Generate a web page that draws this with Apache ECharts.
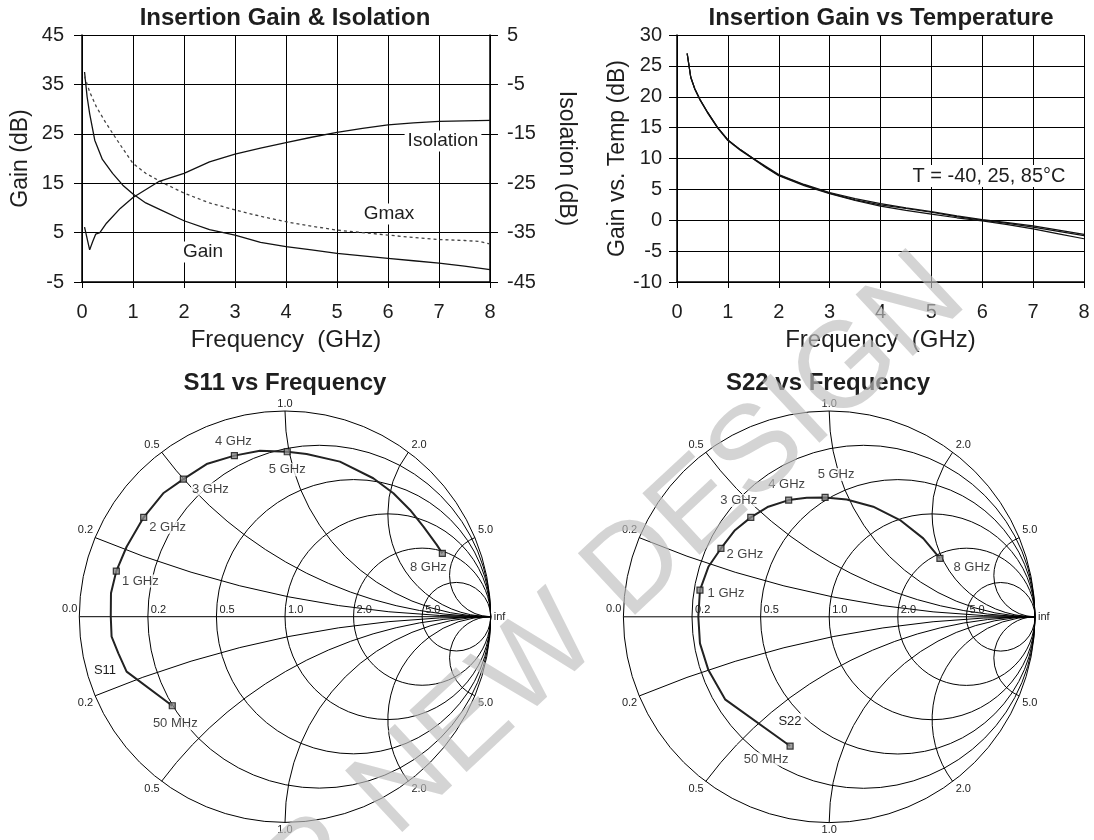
<!DOCTYPE html>
<html>
<head>
<meta charset="utf-8">
<title>Insertion Gain, Isolation, S11 / S22</title>
<script src="https://cdn.jsdelivr.net/npm/echarts@6/dist/echarts.min.js"></script>
<style>
  html, body { margin: 0; padding: 0; background: #fff; }
  #chart { width: 1094px; height: 840px; }
</style>
</head>
<body>
<div id="chart"></div>
<script>
// ---- values ----
var gainFreq = [0.05, 0.1, 0.15, 0.25, 0.4, 0.6, 0.8, 1.0, 1.25, 1.5, 2.0, 2.5, 3.0, 3.5, 4.0, 4.5, 5.0, 5.5, 6.0, 6.5, 7.0, 7.5, 8.0];
var gainDb = [37.5, 32.5, 29.1, 23.7, 19.8, 17.0, 14.6, 12.8, 11.0, 9.8, 7.4, 5.6, 4.5, 3.0, 2.15, 1.5, 0.8, 0.3, -0.2, -0.7, -1.2, -1.8, -2.5];

var gmaxFreq = [0.05, 0.15, 0.28, 0.45, 0.6, 0.8, 1.0, 1.25, 1.6, 2.0, 2.5, 3.0, 3.5, 4.0, 4.5, 5.0, 5.5, 6.0, 6.5, 7.0, 7.5, 7.8, 8.0];
var gmaxDb = [36.6, 33.5, 30.5, 27.5, 25.1, 22.0, 19.0, 17.0, 15.0, 13.0, 11.0, 9.6, 8.3, 7.2, 6.3, 5.5, 5.0, 4.5, 4.0, 3.6, 3.4, 3.2, 2.7];

var isoFreq = [0.05, 0.15, 0.21, 0.27, 0.35, 0.48, 0.75, 1.0, 1.5, 2.0, 2.5, 3.0, 3.5, 4.0, 4.5, 5.0, 5.5, 6.0, 6.5, 7.0, 7.5, 8.0];
var isoDb = [-33.9, -38.5, -36.8, -35.3, -35.0, -33.1, -30.1, -27.9, -24.7, -23.0, -20.7, -19.1, -17.9, -16.8, -15.7, -14.7, -13.9, -13.2, -12.8, -12.5, -12.4, -12.3];

var tempFreq = [0.2, 0.27, 0.35, 0.45, 0.6, 0.8, 1.0, 1.25, 1.5, 1.75, 2.0, 2.5, 3.0, 3.5, 4.0, 4.5, 5.0, 5.5, 6.0, 6.5, 7.0, 7.5, 8.0];
var gainM40 = [27.0, 23.2, 21.3, 19.6, 17.5, 15.0, 13.0, 11.4, 10.0, 8.7, 7.4, 5.8, 4.5, 3.5, 2.7, 2.0, 1.4, 0.7, 0.1, -0.4, -0.9, -1.6, -2.3];
var gain25 = [27.0, 23.2, 21.3, 19.6, 17.5, 15.0, 13.0, 11.4, 10.0, 8.6, 7.3, 5.7, 4.4, 3.3, 2.5, 1.9, 1.3, 0.6, 0.0, -0.5, -1.1, -1.8, -2.5];
var gain85 = [27.0, 23.1, 21.2, 19.5, 17.4, 14.9, 12.9, 11.3, 9.9, 8.5, 7.2, 5.6, 4.3, 3.2, 2.3, 1.6, 1.0, 0.4, -0.1, -0.7, -1.4, -2.2, -3.0];

// reflection coefficients (real, imaginary), 50 MHz .. 8 GHz
var s11Re = [-0.548, -0.770, -0.810, -0.843, -0.847, -0.846, -0.820, -0.770, -0.687, -0.592, -0.494, -0.381, -0.246, -0.122, 0.011, 0.105, 0.267, 0.429, 0.527, 0.608, 0.673, 0.738, 0.765];
var s11Im = [-0.433, -0.267, -0.178, -0.097, 0.000, 0.114, 0.222, 0.340, 0.483, 0.600, 0.669, 0.742, 0.783, 0.807, 0.802, 0.791, 0.754, 0.673, 0.600, 0.519, 0.438, 0.349, 0.308];
var s22Re = [-0.190, -0.506, -0.587, -0.628, -0.636, -0.628, -0.587, -0.526, -0.458, -0.381, -0.296, -0.197, -0.109, -0.020, 0.085, 0.214, 0.344, 0.457, 0.538];
var s22Im = [-0.628, -0.401, -0.259, -0.129, 0.000, 0.130, 0.243, 0.332, 0.421, 0.483, 0.535, 0.567, 0.578, 0.580, 0.570, 0.535, 0.470, 0.381, 0.284];

var markLabels = ['50 MHz', '1 GHz', '2 GHz', '3 GHz', '4 GHz', '5 GHz', '8 GHz'];
var s11MarkRe = [-0.548, -0.820, -0.687, -0.494, -0.246, 0.011, 0.765];
var s11MarkIm = [-0.433, 0.222, 0.483, 0.669, 0.783, 0.802, 0.308];
var s22MarkRe = [-0.190, -0.628, -0.526, -0.381, -0.197, -0.020, 0.538];
var s22MarkIm = [-0.628, 0.130, 0.332, 0.483, 0.567, 0.580, 0.284];

// smith chart grid values
var smithR = [0.2, 0.5, 1.0, 2.0, 5.0];
var smithX = [0.2, 0.5, 1.0, 2.0, 5.0];

// label offsets (px) of the frequency tags, relative to their marker
var s11TagOffset = [[3, 18], [24, 10], [24, 10], [27, 10], [-1, -14], [0, 18], [-14, 14]];
var s22TagOffset = [[-24, 13], [26, 3], [24, 6], [-12, -17], [-2, -16], [11, -23], [32, 9]];

var fam = "'Liberation Sans', Arial, Helvetica, sans-serif";
var ink = '#1e1e1e';

function pairs(xs, ys) {
  return xs.map(function (x, i) { return [x, ys[i]]; });
}

function plotXAxis(grid) {
  return {
    gridIndex: grid, type: 'value', min: 0, max: 8, interval: 1,
    name: 'Frequency  (GHz)', nameLocation: 'middle', nameGap: 46,
    nameTextStyle: { fontSize: 24, color: ink, fontFamily: fam },
    axisLine: { onZero: false, lineStyle: { color: '#000', width: 1.5 } },
    axisTick: { length: 6, lineStyle: { color: '#000' } },
    axisLabel: { fontSize: 20, color: ink, fontFamily: fam, margin: 20 },
    splitLine: { lineStyle: { color: '#000', width: 1 } }
  };
}

function plotYAxis(grid, min, max, step, name, pos, gap, margin) {
  return {
    gridIndex: grid, type: 'value', min: min, max: max, interval: step, position: pos,
    name: name, nameLocation: 'middle', nameGap: gap, nameRotate: pos === 'right' ? -90 : 90,
    nameTextStyle: { fontSize: 23, color: ink, fontFamily: fam },
    axisLine: { show: true, onZero: false, lineStyle: { color: '#000', width: 1.5 } },
    axisTick: { show: true, length: 8, lineStyle: { color: '#000' } },
    axisLabel: { fontSize: 20, color: ink, fontFamily: fam, margin: margin },
    splitLine: { show: pos !== 'right', lineStyle: { color: '#000', width: 1 } }
  };
}

function smithAxis(grid) {
  return { gridIndex: grid, type: 'value', min: -1, max: 1, show: false };
}

function txt(s, x, y, align, valign) {
  return {
    type: 'text', x: x, y: y,
    style: { text: s, font: '11px ' + fam, fill: '#222', align: align, verticalAlign: valign,
             textAlign: align, textVerticalAlign: valign }
  };
}

// smith chart background: resistance circles, reactance arcs and their labels
function smithRender(params, api) {
  var u = api.size([1, 1])[0];
  var ls = { fill: 'none', stroke: '#000', lineWidth: 1 };
  var kids = [];
  [0].concat(smithR).forEach(function (r) {
    var c = api.coord([r / (1 + r), 0]);
    kids.push({ type: 'circle', shape: { cx: c[0], cy: c[1], r: u / (1 + r) }, style: ls });
  });
  var a = api.coord([-1, 0]), b = api.coord([1, 0]);
  kids.push({ type: 'line', shape: { x1: a[0], y1: a[1], x2: b[0], y2: b[1] }, style: ls });
  smithX.forEach(function (x) {
    var t = Math.atan2((x * x - 1) / x, -2);
    if (t < 0) t += 2 * Math.PI;
    [1, -1].forEach(function (sgn) {
      var c = api.coord([1, sgn / x]);
      kids.push({
        type: 'arc',
        shape: { cx: c[0], cy: c[1], r: u / x,
                 startAngle: sgn > 0 ? -1.5 * Math.PI : t,
                 endAngle: sgn > 0 ? -t : 1.5 * Math.PI, clockwise: true },
        style: ls
      });
    });
  });
  smithR.forEach(function (r) {
    var p = api.coord([(r - 1) / (r + 1), 0]);
    kids.push(txt(r.toFixed(1), p[0] + 3, p[1] - 1, 'left', 'bottom'));
  });
  kids.push(txt('0.0', a[0] - 2, a[1] - 2, 'right', 'bottom'));
  kids.push(txt('inf', b[0] + 3, b[1], 'left', 'middle'));
  smithX.forEach(function (x) {
    var phi = Math.PI - 2 * Math.atan(x);
    var al = x < 1 ? 'right' : (x > 1 ? 'left' : 'center');
    var dx = x < 1 ? -2 : (x > 1 ? 3 : 0);
    [1, -1].forEach(function (sgn) {
      var p = api.coord([Math.cos(phi), sgn * Math.sin(phi)]);
      kids.push(txt(x.toFixed(1), p[0] + dx, p[1] - sgn * 2, al, sgn > 0 ? 'bottom' : 'top'));
    });
  });
  return { type: 'group', children: kids };
}

function smithSeries(axis, re, im, markRe, markIm, offsets) {
  return [
    { type: 'custom', xAxisIndex: axis, yAxisIndex: axis + 1, data: [[0, 0]],
      renderItem: smithRender, silent: true, clip: false, z: 1 },
    { type: 'line', xAxisIndex: axis, yAxisIndex: axis + 1, data: pairs(re, im),
      showSymbol: false, lineStyle: { color: '#222', width: 2 }, z: 3 },
    { type: 'scatter', xAxisIndex: axis, yAxisIndex: axis + 1, z: 4,
      data: markRe.map(function (v, i) {
        return { value: [v, markIm[i]], label: { offset: offsets[i] } };
      }),
      symbol: 'rect', symbolSize: 6,
      itemStyle: { color: '#888', borderColor: '#111', borderWidth: 1.2 },
      label: { show: true, position: 'inside', color: '#111', fontSize: 13, fontFamily: fam,
               textBorderWidth: 0, backgroundColor: '#fff', padding: [0, 1],
               formatter: function (p) { return markLabels[p.dataIndex]; } } }
  ];
}

function note(s, x, y, size, bold) {
  return {
    type: 'text', x: x, y: y, z: 100,
    style: { text: s, font: (bold ? 'bold ' : '') + size + 'px ' + fam, fill: ink,
             align: 'center', verticalAlign: 'middle', textAlign: 'center', textVerticalAlign: 'middle',
             backgroundColor: bold ? null : '#fff', padding: bold ? 0 : [1, 3] }
  };
}

var chart = echarts.init(document.getElementById('chart'));
chart.setOption({
  animation: false,
  backgroundColor: '#fff',
  grid: [
    { left: 82, top: 35, width: 408, height: 247, outerBoundsMode: 'none' },
    { left: 677, top: 35, width: 407, height: 247, outerBoundsMode: 'none' },
    { left: 79.3, top: 411, width: 411.4, height: 411.4, outerBoundsMode: 'none' },
    { left: 623.4, top: 411, width: 411.6, height: 411.6, outerBoundsMode: 'none' }
  ],
  xAxis: [plotXAxis(0), plotXAxis(1), smithAxis(2), smithAxis(3)],
  yAxis: [
    plotYAxis(0, -5, 45, 10, 'Gain (dB)', 'left', 50, 18),
    plotYAxis(0, -45, 5, 10, 'Isolation (dB)', 'right', 65, 17),
    plotYAxis(1, -10, 30, 5, 'Gain vs. Temp (dB)', 'left', 46, 15),
    smithAxis(2),
    smithAxis(3)
  ],
  series: [
    { name: 'Gain', type: 'line', xAxisIndex: 0, yAxisIndex: 0, data: pairs(gainFreq, gainDb),
      showSymbol: false, lineStyle: { color: '#111', width: 1.3 } },
    { name: 'Gmax', type: 'line', xAxisIndex: 0, yAxisIndex: 0, data: pairs(gmaxFreq, gmaxDb),
      showSymbol: false, lineStyle: { color: '#444', width: 1.3, type: [3, 3] } },
    { name: 'Isolation', type: 'line', xAxisIndex: 0, yAxisIndex: 1, data: pairs(isoFreq, isoDb),
      showSymbol: false, lineStyle: { color: '#111', width: 1.3 } },
    { name: '-40', type: 'line', xAxisIndex: 1, yAxisIndex: 2, data: pairs(tempFreq, gainM40),
      showSymbol: false, lineStyle: { color: '#111', width: 1.2 } },
    { name: '25', type: 'line', xAxisIndex: 1, yAxisIndex: 2, data: pairs(tempFreq, gain25),
      showSymbol: false, lineStyle: { color: '#111', width: 1.2 } },
    { name: '85', type: 'line', xAxisIndex: 1, yAxisIndex: 2, data: pairs(tempFreq, gain85),
      showSymbol: false, lineStyle: { color: '#111', width: 1.2 } }
  ].concat(
    smithSeries(2, s11Re, s11Im, s11MarkRe, s11MarkIm, s11TagOffset),
    smithSeries(3, s22Re, s22Im, s22MarkRe, s22MarkIm, s22TagOffset)
  ),
  graphic: [
    note('Insertion Gain & Isolation', 285, 18, 24, true),
    note('Insertion Gain vs Temperature', 881, 18, 24, true),
    note('S11 vs Frequency', 285, 383, 24, true),
    note('S22 vs Frequency', 828, 383, 24, true),
    note('Isolation', 443, 141, 19),
    note('Gmax', 389, 214, 19),
    note('Gain', 203, 252, 19),
    note('T = -40, 25, 85\u00b0C', 989, 176, 20),
    note('S11', 105, 670, 13),
    note('S22', 790, 721, 13),
    { type: 'text', x: 947, y: 278, rotation: 43 * Math.PI / 180, z: 200, silent: true,
      style: { text: 'NOT FOR NEW DESIGN', font: '122px ' + fam, fill: 'rgba(190,190,190,0.66)',
               align: 'right', verticalAlign: 'middle', textAlign: 'right', textVerticalAlign: 'middle' } }
  ]
});
</script>
</body>
</html>
